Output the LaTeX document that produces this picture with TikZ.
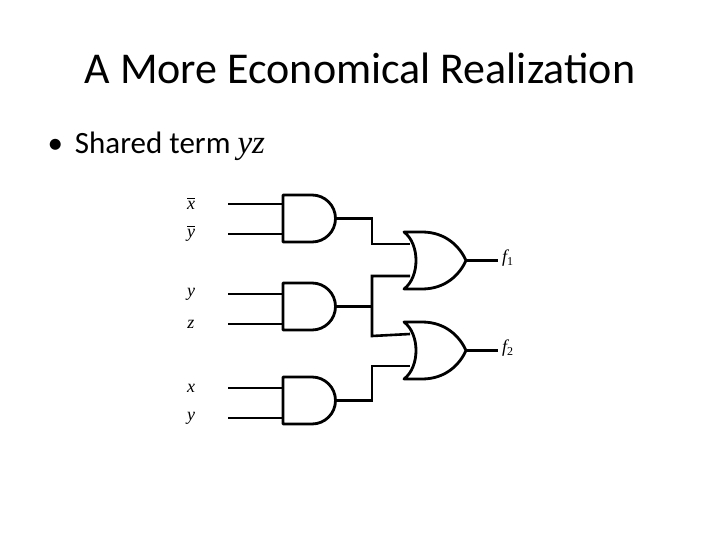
\documentclass[tikz,border=0pt]{standalone}
\usepackage{fontspec}
\setmainfont{Carlito}
\newfontfamily\lab{Liberation Serif}
\newcommand\ovl[1]{\vbox{\hrule height 0.9pt\kern 2.5pt\hbox{#1}}}
\newcommand\lf{\lab\itshape\fontsize{18}{18}\selectfont}
\begin{document}
\begin{tikzpicture}[x=1pt,y=-1pt,
  wire/.style={line width=2.6pt},
  gate/.style={line width=2.8pt,line join=round},
  lbl/.style={inner sep=0pt}]
\useasboundingbox (0,0) rectangle (720,540);
\node[font=\fontsize{44}{46}\selectfont] (title) at (360,68) {A More Economical Realization};
\node[font=\fontsize{31}{34}\selectfont,anchor=west] (bul) at (44,146) {•\hspace{12pt}Shared term {\lab\itshape\fontsize{33}{34}\selectfont yz}};
% AND gates
\foreach \n/\t in {a1/195,a2/283,a3/377}{
  \draw[gate] (283,\t) -- (312,\t) arc[start angle=-90,end angle=90,radius=23.5] -- (283,\t+47) -- cycle;
  \coordinate (\n o) at (335.5,\t+23.5);
}
% OR gates
\foreach \n/\t in {o1/232,o2/322}{
  \draw[gate] (404,\t) .. controls (420,\t+12) and (420,\t+45) .. (404,\t+57)
    -- (422,\t+57) .. controls (446,\t+57) and (460,\t+42) .. (466,\t+28.5)
    .. controls (460,\t+15) and (446,\t) .. (422,\t) -- cycle;
  \coordinate (\n i1) at (410,\t+12);
  \coordinate (\n i2) at (410,\t+44);
  \coordinate (\n o) at (466,\t+28.5);
}
% inputs
\foreach \g/\la/\lb/\ya/\yb in {a1/{\ovl{x}}/{\ovl{y}}/204/234, a2/y/z/294/324, a3/x/y/388/418}{
  \node[lbl] (\g la) at (191,\ya) {\lf\la};
  \node[lbl] (\g lb) at (191,\yb) {\lf\lb};
  \coordinate (\g sa) at (228,\ya);
  \coordinate (\g sb) at (228,\yb);
  \draw[wire] (\g sa) -- (284,\ya);
  \draw[wire] (\g sb) -- (284,\yb);
}
\draw[wire] (a1o) -| (372,244) -- (o1i1);
\draw[wire] (a2o) -- (372,306.5);
\draw[wire] (o1i2) -| (372,336) -- (o2i1);
\draw[wire] (a3o) -| (372,366) -- (o2i2);
\coordinate (f1e) at (498,260.5);
\coordinate (f2e) at (498,350.5);
\draw[wire] (o1o) -- (f1e);
\draw[wire] (o2o) -- (f2e);
\node[lbl,anchor=west] (f1) at (502,258) {\lf f\textsubscript{\upshape\fontsize{12}{12}\selectfont 1}};
\node[lbl,anchor=west] (f2) at (502,348) {\lf f\textsubscript{\upshape\fontsize{12}{12}\selectfont 2}};
\end{tikzpicture}
\end{document}
